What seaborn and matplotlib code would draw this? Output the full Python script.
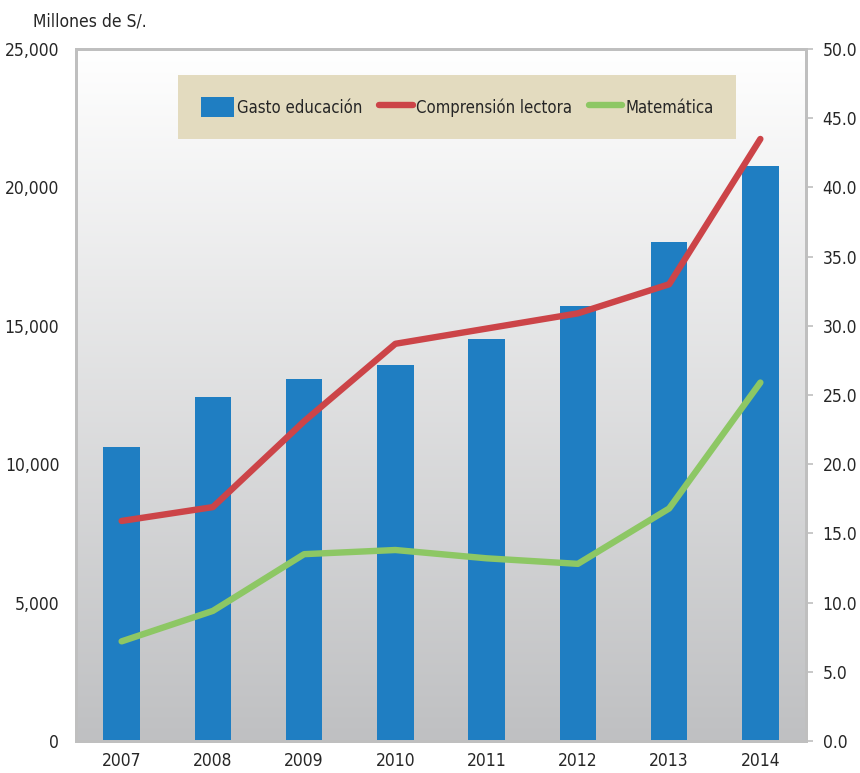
import numpy as np
import pandas as pd
import matplotlib
matplotlib.use("Agg")
import matplotlib.pyplot as plt
from matplotlib.patches import Patch
from matplotlib.lines import Line2D
import seaborn as sns

years = ["2007", "2008", "2009", "2010", "2011", "2012", "2013", "2014"]
gasto = [10620, 12430, 13080, 13580, 14520, 15720, 18030, 20770]
lectora = [15.9, 16.9, 23.1, 28.7, 29.8, 30.9, 33.0, 43.5]
matematica = [7.2, 9.4, 13.5, 13.8, 13.2, 12.8, 16.8, 25.9]
left_ticks = [0, 5000, 10000, 15000, 20000, 25000]
right_ticks = [0, 5, 10, 15, 20, 25, 30, 35, 40, 45, 50]

sns.set_theme(style="white")
plt.rcParams["font.family"] = ["DejaVu Sans"]
plt.rcParams["font.stretch"] = "condensed"

BLUE = "#1f7ec2"
RED = "#cc4448"
GREEN = "#8dc764"
FRAME = "#bfbfbf"

W, H = 860, 773
fig = plt.figure(figsize=(W / 100, H / 100), dpi=100)
pos = [76 / W, 1 - 741 / H, (806 - 76) / W, (741 - 49) / H]

# gradient background
bg = fig.add_axes(pos, zorder=0)
grad = np.linspace(0, 1, 256).reshape(-1, 1)
top = np.array([1.0, 1.0, 1.0])
bot = np.array([0xbf, 0xc0, 0xc2]) / 255
img = top[None, None, :] * (1 - grad[..., None]) + bot[None, None, :] * grad[..., None]
bg.imshow(img, aspect="auto", extent=[0, 1, 0, 1])
bg.axis("off")

ax = fig.add_axes(pos, zorder=1)
ax.patch.set_visible(False)
df = pd.DataFrame({"year": years, "gasto": gasto})
sns.barplot(data=df, x="year", y="gasto", color=BLUE, saturation=1, width=0.40,
            edgecolor="none", linewidth=0, ax=ax)
ax.set_ylim(0, 25000)
ax.set_xlim(-0.5, len(years) - 0.5)
ax.set_yticks(left_ticks)
ax.set_yticklabels([f"{v:,}" for v in left_ticks])
ax.set_xlabel("")
ax.set_ylabel("")
ax.tick_params(axis="y", length=0, pad=12, labelsize=12.5)
ax.tick_params(axis="x", length=0, pad=8, labelsize=12.5)
for s in ax.spines.values():
    s.set_color(FRAME)
    s.set_linewidth(2)

ax2 = ax.twinx()
xpos = np.arange(len(years))
ldf = pd.DataFrame({"x": xpos, "lectora": lectora, "mat": matematica})
sns.lineplot(data=ldf, x="x", y="lectora", color=RED, lw=4.6, ax=ax2,
             solid_capstyle="round", solid_joinstyle="round")
sns.lineplot(data=ldf, x="x", y="mat", color=GREEN, lw=4.6, ax=ax2,
             solid_capstyle="round", solid_joinstyle="round")
ax2.set_ylim(0, 50)
ax2.set_xlim(-0.5, len(years) - 0.5)
ax2.set_yticks(right_ticks)
ax2.set_yticklabels([f"{v:.1f}" for v in right_ticks])
ax2.set_ylabel("")
ax2.set_xlabel("")
ax2.tick_params(axis="y", right=True, length=5, width=1.2, color=FRAME, pad=7, labelsize=12.5)
for s in ax2.spines.values():
    s.set_color(FRAME)
    s.set_linewidth(2)

fig.text(33 / W, 1 - 22 / H, "Millones de S/.", fontsize=12.5, va="center", ha="left")

handles = [
    Patch(facecolor=BLUE, edgecolor="none"),
    Line2D([], [], color=RED, lw=4.6, solid_capstyle="round"),
    Line2D([], [], color=GREEN, lw=4.6, solid_capstyle="round"),
]
labels = ["Gasto educación", "Comprensión lectora", "Matemática"]
leg = fig.legend(handles, labels, loc="center", bbox_to_anchor=(457 / W, 1 - 107 / H),
                 ncol=3, frameon=True, fancybox=False, facecolor="#e3dbbf", edgecolor="none",
                 framealpha=1, fontsize=12, handlelength=2.0, handleheight=1.45,
                 handletextpad=0.2, columnspacing=1.0, borderpad=1.35)
leg.set_zorder(5)

fig.savefig("out.png", dpi=100)
